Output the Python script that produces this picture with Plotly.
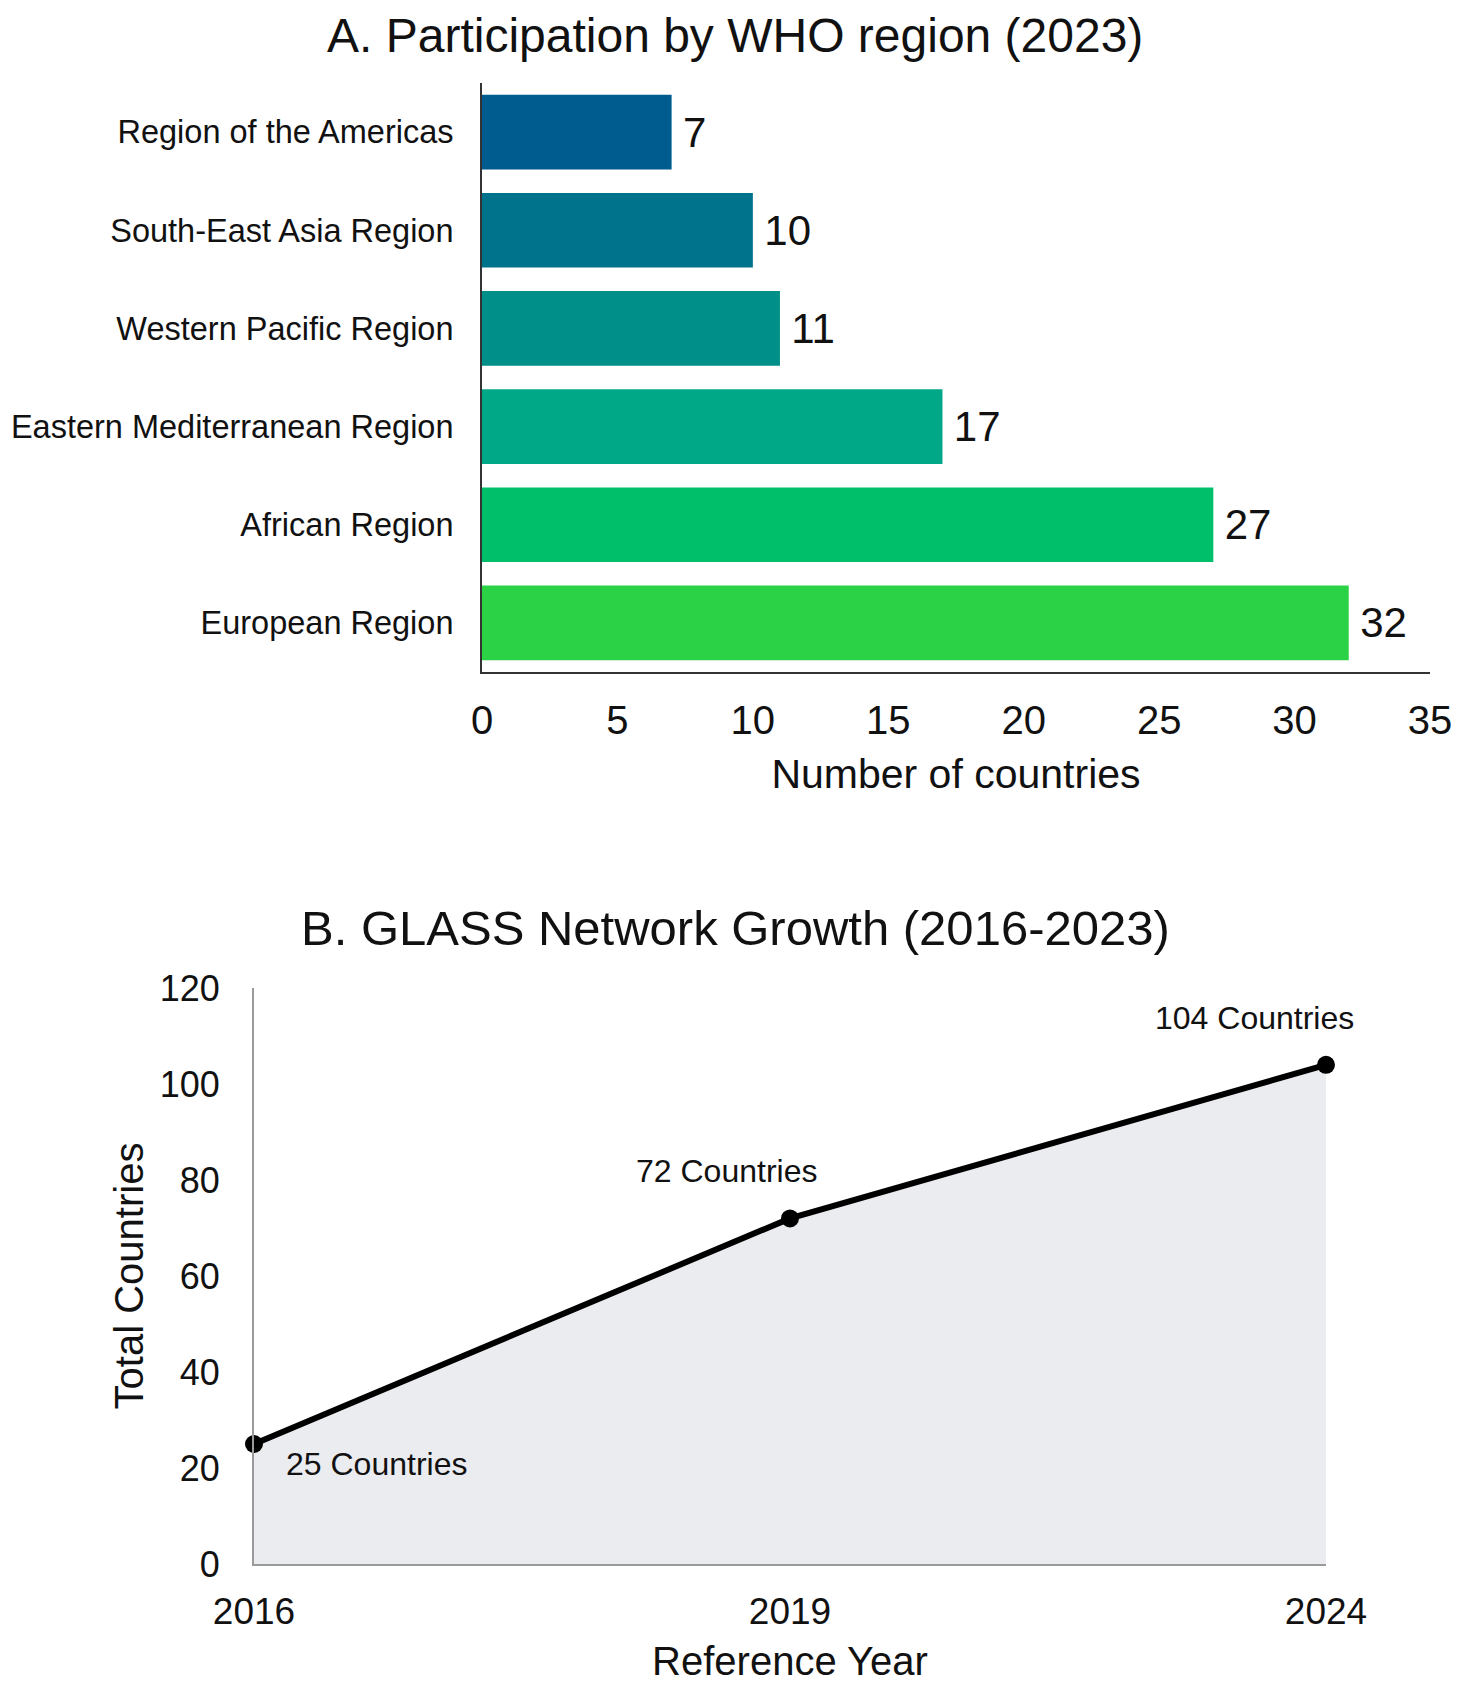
import plotly.graph_objects as go

# Panel A: participation by WHO region (2023)
regions = [
    "Region of the Americas",
    "South-East Asia Region",
    "Western Pacific Region",
    "Eastern Mediterranean Region",
    "African Region",
    "European Region",
]
region_counts = [7, 10, 11, 17, 27, 32]
region_colors = ["#005b8f", "#00738c", "#008f89", "#00a887", "#00bf6b", "#2cd245"]

# Panel B: GLASS network growth
years = ["2016", "2019", "2024"]
total_countries = [25, 72, 104]
point_labels = ["25 Countries", "72 Countries", "104 Countries"]

FONT = "Liberation Sans, Arial, Helvetica, sans-serif"
INK = "#111111"
W, H = 1462, 1691
PAGE_OFF = 8  # default body margin of the html page


def px_x(p):
    return (p - PAGE_OFF) / W


def px_y(p):
    return 1 - (p - PAGE_OFF) / H


fig = go.Figure()

fig.add_trace(go.Bar(
    x=region_counts,
    y=regions,
    orientation="h",
    marker=dict(color=region_colors, line=dict(width=0)),
    text=["\u2009" + str(v) for v in region_counts],
    textposition="outside",
    textfont=dict(size=42, color=INK, family=FONT),
    cliponaxis=False,
    width=0.76,
    xaxis="x",
    yaxis="y",
    showlegend=False,
))

fig.add_trace(go.Scatter(
    x=years,
    y=total_countries,
    mode="lines+markers",
    fill="tozeroy",
    fillcolor="#ebecf0",
    line=dict(color="black", width=6),
    marker=dict(color="black", size=18),
    xaxis="x2",
    yaxis="y2",
    cliponaxis=False,
    showlegend=False,
))

annotations = [
    dict(text="A. Participation by WHO region (2023)", x=px_x(735), y=px_y(36),
         xref="paper", yref="paper", showarrow=False,
         font=dict(size=48, color=INK, family=FONT), yanchor="middle"),
    dict(text="B. GLASS Network Growth (2016-2023)", x=px_x(735), y=px_y(928),
         xref="paper", yref="paper", showarrow=False,
         font=dict(size=49, color=INK, family=FONT), yanchor="middle"),
]

# label offsets (px) relative to each point
shifts = [(122, -20), (-64, 47), (-72, 47)]
for i, (val, lab, (dx, dy)) in enumerate(zip(total_countries, point_labels, shifts)):
    annotations.append(dict(
        text=lab, x=i, y=val, xref="x2", yref="y2", showarrow=False,
        xshift=dx, yshift=dy, font=dict(size=32, color=INK, family=FONT),
    ))

fig.update_layout(
    width=W,
    height=H,
    margin=dict(l=0, r=0, t=0, b=0),
    paper_bgcolor="white",
    plot_bgcolor="white",
    font=dict(family=FONT, color=INK),
    annotations=annotations,
    xaxis=dict(
        domain=[px_x(482), px_x(1430)],
        anchor="y",
        range=[0, 35],
        dtick=5,
        automargin=False,
        showgrid=False,
        zeroline=False,
        showline=True,
        linecolor="#333333",
        linewidth=2,
        ticks="",
        tickfont=dict(size=40, color=INK),
        ticklabelstandoff=12,
        title=dict(text="Number of countries", font=dict(size=41, color=INK), standoff=18),
    ),
    yaxis=dict(
        domain=[px_y(672), px_y(83)],
        anchor="x",
        range=[5.5, -0.5],
        automargin=False,
        showgrid=False,
        showline=True,
        linecolor="#333333",
        linewidth=2,
        ticks="",
        tickfont=dict(size=32.5, color=INK),
        ticklabelstandoff=20,
    ),
    xaxis2=dict(
        domain=[px_x(254), px_x(1326)],
        anchor="y2",
        type="category",
        range=[0, 2],
        automargin=False,
        showgrid=False,
        zeroline=False,
        showline=True,
        linecolor="#9a9a9a",
        linewidth=2,
        ticks="",
        tickfont=dict(size=37, color=INK),
        ticklabelstandoff=14,
        title=dict(text="Reference Year", font=dict(size=40, color=INK), standoff=16),
    ),
    yaxis2=dict(
        domain=[px_y(1564), px_y(988)],
        anchor="x2",
        range=[0, 120],
        dtick=20,
        automargin=False,
        showgrid=False,
        zeroline=False,
        showline=True,
        linecolor="#9a9a9a",
        linewidth=2,
        ticks="",
        tickfont=dict(size=36, color=INK),
        ticklabelstandoff=25,
        title=dict(text="Total Countries", font=dict(size=40, color=INK), standoff=4),
    ),
)

fig.write_html("out.html")
